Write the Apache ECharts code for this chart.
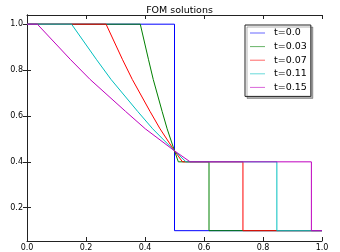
<!DOCTYPE html>
<html><head><meta charset="utf-8">
<script src="https://cdn.jsdelivr.net/npm/echarts@6/dist/echarts.min.js"></script>
<style>html,body{margin:0;padding:0;background:#fff}#c{width:340px;height:252px}</style>
</head><body><div id="c"></div>
<script>
var seriesNames = ['t=0.0', 't=0.03', 't=0.07', 't=0.11', 't=0.15'];
var colors = ['#0000ff', '#008000', '#ff0000', '#00bfbf', '#bf00bf'];
var xTicks = [0.0, 0.2, 0.4, 0.6, 0.8, 1.0];
var yTicks = [0.2, 0.4, 0.6, 0.8, 1.0];
var s0 = [[0,1],[0.5,1],[0.5,0.1],[1,0.1]];
var s1 = [[0,1],[0.384,1],[0.412,0.845],[0.428,0.759],[0.458,0.62],[0.475,0.544],[0.5,0.448],[0.513,0.40],[0.617,0.40],[0.617,0.1],[1,0.1]];
var s2 = [[0,1],[0.268,1],[0.324,0.845],[0.357,0.759],[0.417,0.62],[0.451,0.544],[0.5,0.448],[0.527,0.40],[0.732,0.40],[0.732,0.1],[1,0.1]];
var s3 = [[0,1],[0.151,1],[0.236,0.845],[0.285,0.759],[0.375,0.62],[0.426,0.544],[0.5,0.448],[0.539,0.40],[0.847,0.40],[0.847,0.1],[1,0.1]];
var s4 = [[0,1],[0.035,1],[0.148,0.845],[0.214,0.759],[0.334,0.62],[0.401,0.544],[0.5,0.448],[0.553,0.40],[0.964,0.40],[0.964,0.1],[1,0.1]];
var allData = [s0, s1, s2, s3, s4];

var font = 'DejaVu Sans';
var axisLine = {show: true, lineStyle: {color: '#222', width: 1}};
var tick = {show: true, inside: true, length: 4, lineStyle: {color: '#222', width: 1}};
function xAxis(pos, showLabel) {
  return {type: 'value', position: pos, min: 0, max: 1, interval: 0.2,
    axisLine: axisLine, axisTick: tick, splitLine: {show: false},
    axisLabel: {show: showLabel, fontFamily: font, fontSize: 8, color: '#000', margin: 3,
      formatter: function(v){return v.toFixed(1);}}};
}
function yAxis(pos, showLabel) {
  return {type: 'value', position: pos, min: 0.055, max: 1.04,
    axisLine: axisLine,
    axisTick: Object.assign({customValues: yTicks}, tick),
    splitLine: {show: false},
    axisLabel: {show: showLabel, customValues: yTicks, fontFamily: font, fontSize: 8, color: '#000', margin: 4,
      formatter: function(v){return v.toFixed(1);}}};
}
var chart = echarts.init(document.getElementById('c'), null, {renderer: 'canvas'});
chart.setOption({
  animation: false,
  backgroundColor: '#fff',
  title: {text: 'FOM solutions', left: 174.5, textAlign: 'center', top: 1,
    textStyle: {fontFamily: font, fontSize: 9.5, fontWeight: 'normal', color: '#000'}},
  grid: {left: 27, right: 18, top: 15, bottom: 10, containLabel: false},
  xAxis: [xAxis('bottom', true), xAxis('top', false)],
  yAxis: [yAxis('left', true), yAxis('right', false)],
  legend: {orient: 'vertical', left: 245, top: 25,
    data: seriesNames.map(function(n){return {name: n, icon: 'rect', itemStyle: {opacity: 0.6}};}),
    itemWidth: 15, itemHeight: 1, itemGap: 3.6,
    padding: [3, 4, 4, 5],
    backgroundColor: '#fff', borderColor: '#222', borderWidth: 1, borderRadius: 0,
    shadowColor: 'rgba(0,0,0,0.3)', shadowOffsetX: 2, shadowOffsetY: 2, shadowBlur: 0,
    textStyle: {fontFamily: font, fontSize: 9.5, color: '#000', padding: [0,0,0,4], lineHeight: 10}},
  series: allData.map(function(d, i){
    return {type: 'line', name: seriesNames[i], data: d, symbol: 'none',
      color: colors[i], lineStyle: {color: colors[i], width: 1}, z: 2 + i};
  })
});
</script></body></html>
